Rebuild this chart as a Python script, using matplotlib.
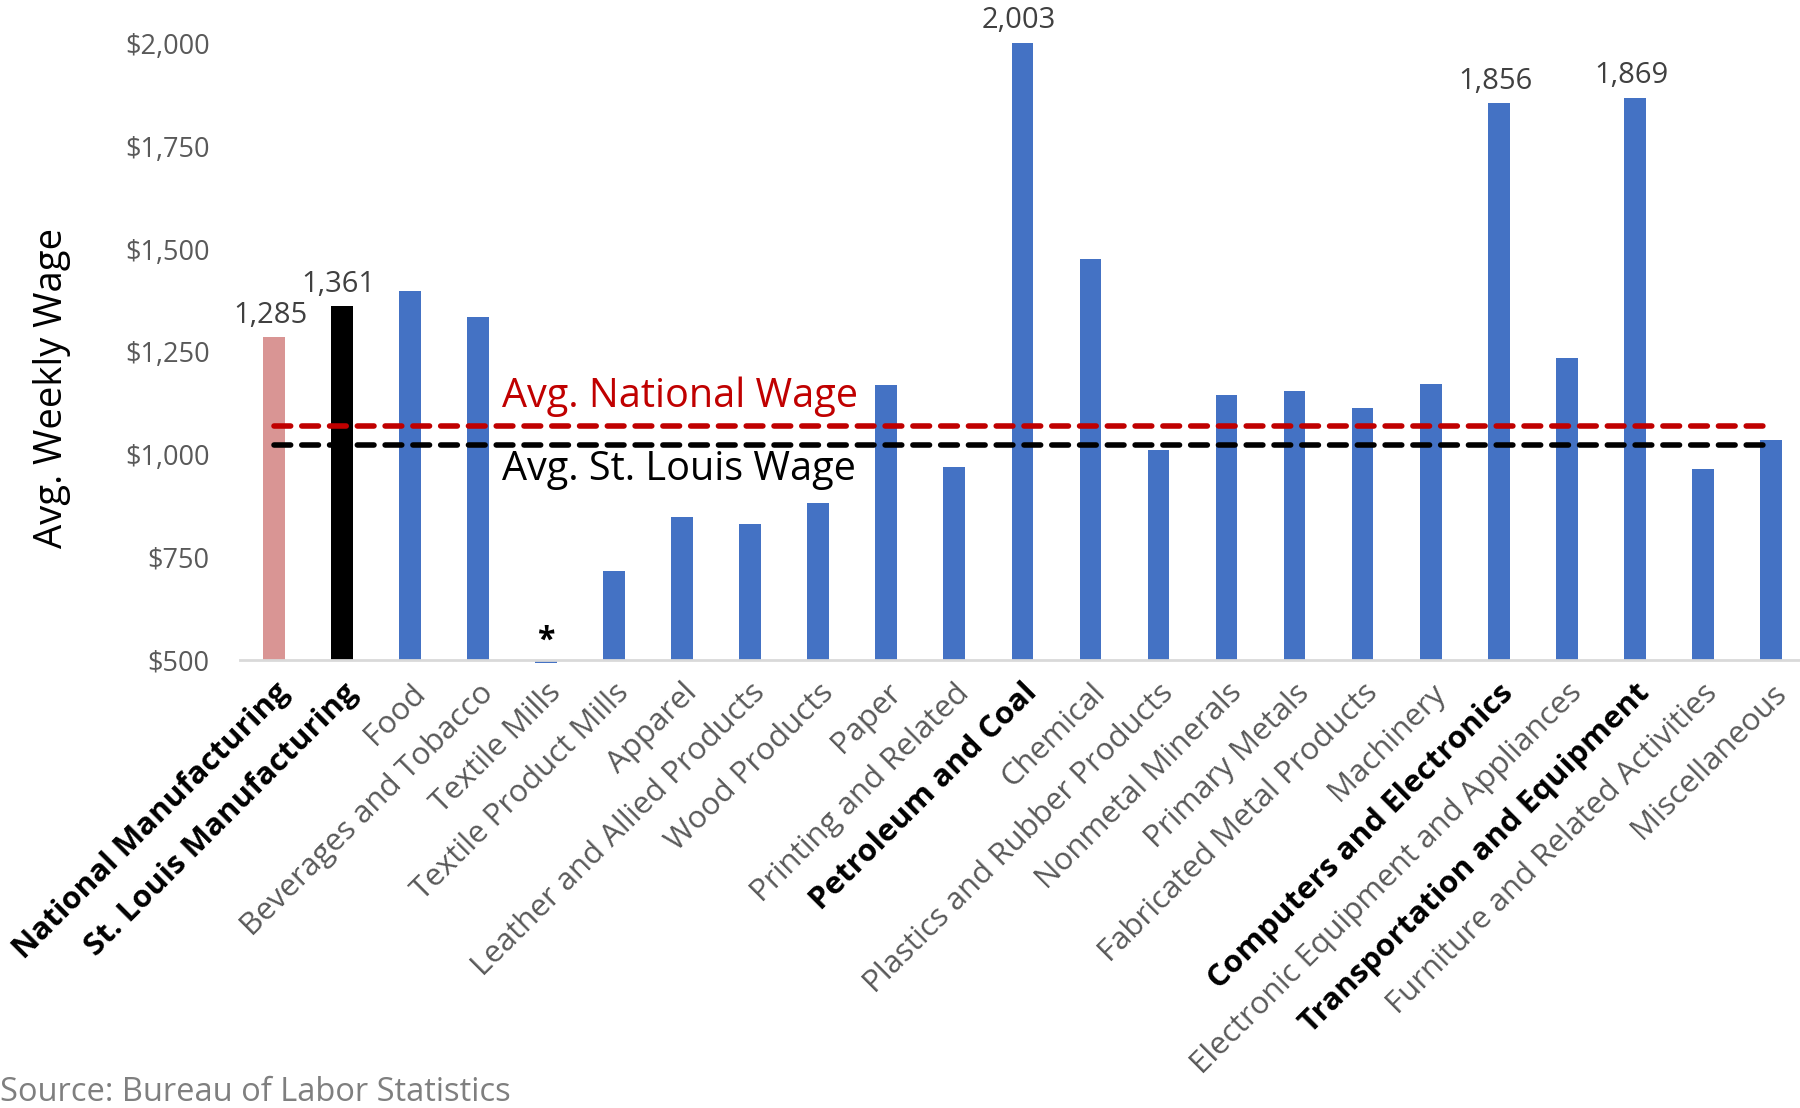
import matplotlib
matplotlib.use("Agg")
from matplotlib import pyplot as plt
import numpy as np

plt.rcParams['font.family'] = ['Open Sans', 'DejaVu Sans']

industries = ["National Manufacturing", "St. Louis Manufacturing", "Food",
              "Beverages and Tobacco", "Textile Mills", "Textile Product Mills",
              "Apparel", "Leather and Allied Products", "Wood Products", "Paper",
              "Printing and Related", "Petroleum and Coal", "Chemical",
              "Plastics and Rubber Products", "Nonmetal Minerals", "Primary Metals",
              "Fabricated Metal Products", "Machinery", "Computers and Electronics",
              "Electronic Equipment and Appliances", "Transportation and Equipment",
              "Furniture and Related Activities", "Miscellaneous"]
wages = [1285, 1361, 1398, 1335, 492, 716, 848, 831, 883, 1168, 969, 2003, 1475,
         1011, 1144, 1154, 1114, 1171, 1856, 1234, 1869, 965, 1036]
bold_labels = ["National Manufacturing", "St. Louis Manufacturing",
               "Petroleum and Coal", "Computers and Electronics",
               "Transportation and Equipment"]
labelled = ["National Manufacturing", "St. Louis Manufacturing",
            "Petroleum and Coal", "Computers and Electronics",
            "Transportation and Equipment"]
national_avg = 1069
stl_avg = 1022
y_ticks = [500, 750, 1000, 1250, 1500, 1750, 2000]

colors = []
for name in industries:
    if name == "National Manufacturing":
        colors.append('#d99594')
    elif name == "St. Louis Manufacturing":
        colors.append('#000000')
    else:
        colors.append('#4472c4')

fig = plt.figure(figsize=(18, 11.08), dpi=100)
ax = fig.add_axes([0.1333, 0.4045, 0.8694, 0.556])

x = np.arange(len(industries))
base = 500
bars = ax.bar(x, np.array(wages) - base, bottom=base, width=0.32, color=colors,
              clip_on=False, zorder=2)

# value labels on highlighted bars
for i, name in enumerate(industries):
    if name in labelled:
        ax.text(x[i] - 0.05, wages[i] + 18, "{:,}".format(wages[i]), ha='center',
                va='bottom', fontsize=21, color='#404040')

# suppressed value marker
ti = industries.index("Textile Mills")
ax.text(x[ti], 545, "*", ha='center', va='center', fontsize=23, fontweight='bold',
        color='black')

# average lines
ax.plot([x[0], x[-1]], [national_avg, national_avg], color='#c00000', lw=4,
        dashes=(3, 2), zorder=3, dash_capstyle='round')
ax.plot([x[0], x[-1]], [stl_avg, stl_avg], color='black', lw=4,
        dashes=(3, 2), zorder=3, dash_capstyle='round')
ax.text(3.35, 1140, "Avg. National Wage", color='#c00000', fontsize=28.5,
        ha='left', va='center')
ax.text(3.35, 962, "Avg. St. Louis Wage", color='black', fontsize=28.5,
        ha='left', va='center')

ax.set_xlim(-0.5, len(industries) - 0.5)
ax.set_ylim(500, 2000)
ax.set_yticks(y_ticks)
ax.set_yticklabels(["${:,}".format(v) for v in y_ticks], fontsize=19.5, color='#595959')
ax.tick_params(axis='y', length=0, pad=22)
ax.tick_params(axis='x', length=0, pad=13)

ax.set_xticks(x)
ax.set_xticklabels(industries, rotation=45, ha='right', rotation_mode='anchor',
                   fontsize=22.5)
for lab in ax.get_xticklabels():
    if lab.get_text() in bold_labels:
        lab.set_fontweight('bold')
        lab.set_color('black')
    else:
        lab.set_color('#595959')

for s in ['top', 'right', 'left']:
    ax.spines[s].set_visible(False)
ax.spines['bottom'].set_color('#d9d9d9')
ax.spines['bottom'].set_linewidth(2)

ax.set_ylabel("Avg. Weekly Wage", fontsize=27.5, color='black')
ax.yaxis.set_label_coords(-0.108, 0.441)

fig.text(0.0, 0.0144, "Source: Bureau of Labor Statistics", fontsize=23.5, color='#7f7f7f',
         ha='left', va='center')

fig.savefig("out.png", dpi=100)
